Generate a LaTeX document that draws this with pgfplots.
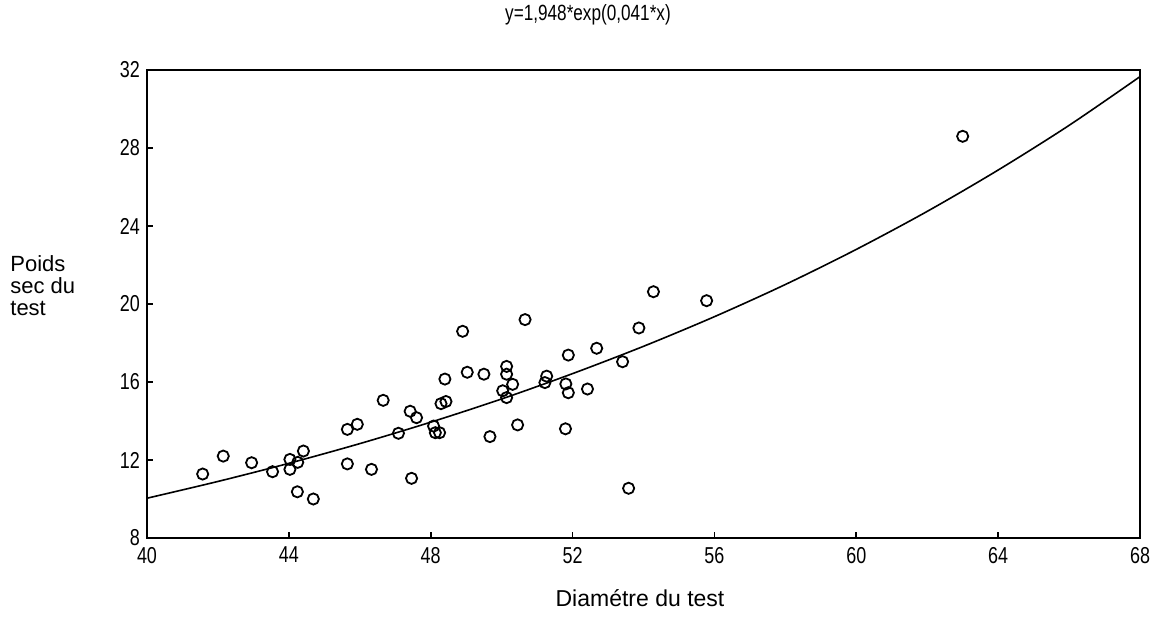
\documentclass[border=0pt]{standalone}
\usepackage{fontspec}
\setmainfont{Liberation Sans}
\newfontfamily\narrow[FakeStretch=0.78]{Liberation Sans}
\usepackage{pgfplots}
\pgfplotsset{compat=1.18}
\begin{document}
\begin{tikzpicture}
\path[use as bounding box] (-73.5pt,-41.5pt) rectangle (512.5pt,269pt);
\begin{axis}[
  at={(0,0)}, anchor=south west,
  scale only axis, width=496.5pt, height=234pt,
  xmin=40, xmax=68, ymin=8, ymax=32,
  xtick={40,44,...,68}, ytick={8,12,...,32},
  tick align=inside, xtick pos=left, ytick pos=left,
  major tick length=3pt,
  tick style={black, line width=0.8pt},
  axis line style={line width=1pt},
  ticklabel style={font=\narrow\fontsize{11.5}{12}\selectfont},
  xticklabel style={yshift=-1pt},
  /pgf/number format/assume math mode=true,
  clip mode=individual,
]
% courbe ajustee
\addplot[black, line width=0.8pt, smooth] coordinates {
  (40,10.04) (42,10.90) (44,11.83) (46,12.84) (48,13.94) (50,15.13)
  (52,16.43) (54,17.83) (56,19.35) (58,21.00) (60,22.80) (62,24.75)
  (64,26.87) (66,29.16) (68,31.66)
};
% observations
\addplot[only marks, mark=o, mark size=2.8pt, mark options={line width=0.9pt, black}] coordinates {
  (41.57,11.28) (42.15,12.20) (42.95,11.86) (43.54,11.40) (44.03,12.03)
  (44.03,11.52) (44.25,11.88) (44.41,12.46) (44.24,10.37) (44.69,10.00)
  (45.65,11.80) (45.65,13.57) (45.93,13.83) (46.33,11.52) (46.66,15.06)
  (47.09,13.37) (47.46,11.06) (47.42,14.50) (47.60,14.17) (48.08,13.74)
  (48.13,13.40) (48.25,13.40) (48.29,14.89) (48.43,15.00) (48.40,16.15)
  (48.90,18.60) (49.03,16.50) (49.50,16.40) (49.67,13.20) (50.14,16.80)
  (50.14,16.40) (50.31,15.88) (50.03,15.55) (50.14,15.20) (50.45,13.80)
  (50.66,19.20) (51.27,16.30) (51.22,15.97) (51.81,15.90) (51.88,15.45)
  (51.80,13.60) (51.88,17.38) (52.42,15.64) (52.68,17.73) (53.41,17.04)
  (53.58,10.55) (53.87,18.77) (54.28,20.63) (55.78,20.17) (63.00,28.60)
};
\end{axis}
\node[font=\narrow\fontsize{11}{12}\selectfont] at (220.5pt,261.5pt) {y=1,948*exp(0,041*x)};
\node[anchor=west, align=left, inner sep=0pt, font=\fontsize{11}{11}\selectfont] at (-68.5pt,126.4pt) {Poids\\sec du\\test};
\node[font=\fontsize{11.5}{12}\selectfont] at (246.5pt,-30pt) {Diamétre du test};
\end{tikzpicture}
\end{document}
